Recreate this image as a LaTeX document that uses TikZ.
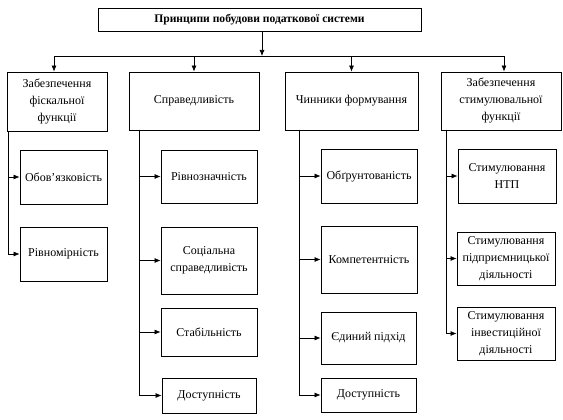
\documentclass[tikz,border=0pt]{standalone}
\usepackage{fontspec}
\setmainfont{Liberation Serif}
\usetikzlibrary{arrows.meta}
\begin{document}
\begin{tikzpicture}[x=1pt,y=-1pt,
  box/.style={draw, line width=0.8pt, align=center, inner sep=1pt,
    font=\fontsize{12}{17}\selectfont},
  arr/.style={line width=0.7pt, -{Latex[length=6pt,width=5pt]}},
  ln/.style={line width=0.7pt}]
\useasboundingbox (0,0) rectangle (563,420);
% top
\node[box, minimum width=323pt, minimum height=23pt, font=\fontsize{11.6}{13}\selectfont\bfseries] (top) at (259.5,19.5) {Принципи побудови податкової системи};
% level 1
\node[box, minimum width=100pt, minimum height=59pt] (a) at (57,101.5) {Забезпечення\\фіскальної\\функції};
\node[box, minimum width=130pt, minimum height=58pt] (b) at (194,101) {Справедливість};
\node[box, minimum width=133pt, minimum height=58pt] (c) at (351.5,101) {Чинники формування};
\node[box, minimum width=120pt, minimum height=58pt] (d) at (501,101) {Забезпечення\\стимулювальної\\функції};
% bus
\coordinate (tb) at (262,56);
\coordinate (bl) at (54,56);
\coordinate (br) at (504,56);
\draw[arr] (top.south -| tb) -- (tb);
\draw[ln] (bl) -- (br);
\draw[arr] (bl) -- (bl |- a.north);
\draw[arr] (tb -| b.north) -- (b.north);
\draw[arr] (tb -| c.north) -- (c.north);
\draw[arr] (br) -- (br |- d.north);
% level 2
\node[box, minimum width=87pt, minimum height=54pt] (a1) at (63.5,177) {Обов’язковість};
\node[box, minimum width=87pt, minimum height=54pt] (a2) at (63.5,254) {Рівномірність};
\node[box, minimum width=96pt, minimum height=53pt] (b1) at (209,176.5) {Рівнозначність};
\node[box, minimum width=96pt, minimum height=67pt] (b2) at (209,260.5) {Соціальна\\справедливість};
\node[box, minimum width=96pt, minimum height=48pt] (b3) at (209,332) {Стабільність};
\node[box, minimum width=94pt, minimum height=35pt] (b4) at (209,395.5) {Доступність};
\node[box, minimum width=96pt, minimum height=54pt] (c1) at (369,176) {Обґрунтованість};
\node[box, minimum width=96pt, minimum height=67pt] (c2) at (369,259.5) {Компетентність};
\node[box, minimum width=95pt, minimum height=52pt] (c3) at (368.5,338) {Єдиний підхід};
\node[box, minimum width=95pt, minimum height=34pt] (c4) at (368.5,395) {Доступність};
\node[box, minimum width=98pt, minimum height=54pt] (d1) at (507,176) {Стимулювання\\НТП};
\node[box, minimum width=98pt, minimum height=53pt] (d2) at (506,258.5) {Стимулювання\\підприємницької\\діяльності};
\node[box, minimum width=98pt, minimum height=53pt] (d3) at (506,333.5) {Стимулювання\\інвестиційної\\діяльності};
% spines
\coordinate (sa) at (8,131);
\coordinate (sb) at (139,130);
\coordinate (sc) at (299,130);
\coordinate (sd) at (446,130);
\foreach \p/\k in {sa/a1,sa/a2,sb/b1,sb/b2,sb/b3,sb/b4,sc/c1,sc/c2,sc/c3,sc/c4,sd/d1,sd/d2,sd/d3}
  \draw[arr] (\p) |- (\k.west);
\end{tikzpicture}
\end{document}
